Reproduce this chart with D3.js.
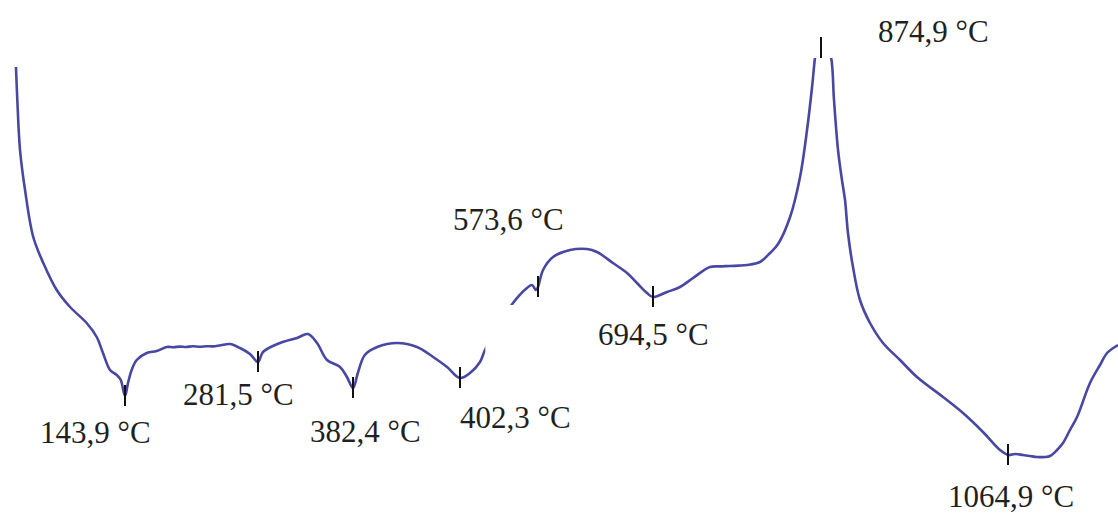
<!DOCTYPE html>
<html>
<head>
<meta charset="utf-8">
<script src="https://cdn.jsdelivr.net/npm/d3@7"></script>
<style>
  body { margin: 0; background: #ffffff; }
  svg { display: block; }
</style>
</head>
<body>
<svg id="chart" width="1118" height="514"></svg>
<script>
// DTA trace: furnace temperature (°C) and differential signal (arbitrary units)
const temperatures = [
  31.0, 32.4, 35.2, 40.4, 48.9, 59.3, 73.2, 87.0, 104.2, 114.6, 121.1, 128.4, 135.3, 139.5, 143.9,
  147.0, 150.8, 156.0, 166.4, 176.7, 187.0, 194.0, 200.8, 207.0, 214.0, 221.5, 228.0, 235.0, 243.0, 252.5, 262.9, 273.2, 281.5,
  286.8, 304.9, 322.9, 334.6, 344.2, 354.8, 368.6, 376.0, 382.4,
  383.3, 384.6, 386.9, 390.6, 394.3, 397.3, 399.9, 402.3,
  424.3, 446.2, 457.2, 490.0, 518.7, 549.4, 560.4, 569.2, 573.6,
  578.9, 589.4, 607.2, 625.1, 635.6, 652.4, 667.2, 677.7, 688.2, 694.5,
  709.5, 723.5, 737.5, 755.7, 766.0, 777.2, 786.0, 795.4, 809.4, 820.2, 828.8, 841.7, 852.4, 859.9, 865.3, 868.5, 871.7, 874.9,
  877.9, 885.1, 888.1, 892.2, 896.2, 899.3, 902.3, 907.4, 914.5, 924.7, 937.9, 955.2, 972.4, 998.9, 1019.2, 1039.5, 1056.8, 1064.9,
  1072.0, 1080.0, 1087.1, 1094.2, 1102.3, 1107.3, 1114.4, 1120.4, 1127.5, 1134.6, 1147.7, 1157.8, 1164.9, 1176.0
];
const signal = [
  206.5, 190, 165, 145, 121.5, 108.5, 95, 86.5, 78.5, 71.5, 63.5, 55, 52.5, 50, 42,
  48.5, 55, 60, 63.5, 64.5, 66.5, 66.4, 66.7, 66.5, 66.9, 66.6, 66.9, 66.8, 67.4, 68, 66, 63, 59,
  64, 68.5, 71, 73, 68.5, 60, 56.5, 51.5, 46,
  53.5, 62.5, 66.5, 68.5, 66.5, 61.5, 56.5, 51,
  53.5, 59, 65, 78, 88.5, 96, 97.5, 95, 96.5,
  105, 111.5, 115, 115.5, 114, 108.5, 103.5, 98.5, 93.5, 91.5,
  94, 96.5, 101, 106.5, 106.8, 107, 107.2, 107.5, 109, 113.5, 118, 131.5, 151.5, 175, 196.5, 211.5, 222.5, 232,
  222.5, 211.5, 190, 165, 150, 140, 123.5, 106.5, 90, 78.5, 68.5, 60, 51.5, 41.5, 33.5, 24, 15, 12.5,
  13, 12.5, 12, 11.5, 11.5, 12, 15, 18.5, 25, 31.5, 48.5, 57.5, 63.5, 67.5
];

// Marked thermal effects
const peakTemps = [143.9, 281.5, 382.4, 402.3, 573.6, 694.5, 874.9, 1064.9];
const peakLabels = ["143,9 °C", "281,5 °C", "382,4 °C", "402,3 °C", "573,6 °C", "694,5 °C", "874,9 °C", "1064,9 °C"];

// Label placement relative to each marker (dx, dy from the marked point)
const labelOffsets = [[-85, 47], [-75, 43], [-43, 54], [0, 50], [-85, -57], [-55, 48], [57, -16], [-60, 52]];

// Temperature axis calibration (piecewise, as recorded by the instrument)
const calibTemps = [30, 143.9, 281.5, 382.4, 402.3, 573.6, 694.5, 874.9, 1064.9, 1180];
const calibPx    = [15, 125, 258, 353, 460, 538, 653, 821, 1008, 1122];

// Hidden stretch of the trace (temperature range, signal below)
const hiddenTemps = [458, 577];
const hiddenSignal = [40, 87.5];

const svg = d3.select("#chart");
const plotTop = 58;

const x = d3.scaleLinear().domain(calibTemps).range(calibPx);
const y = d3.scaleLinear().domain([0, 211]).range([480, plotTop]);

const points = temperatures.map((t, i) => ({ t, v: signal[i] }));

svg.append("defs").append("clipPath").attr("id", "plot-clip")
  .append("rect").attr("x", 0).attr("y", plotTop).attr("width", 1118).attr("height", 514 - plotTop);

const line = d3.line()
  .x(d => x(d.t))
  .y(d => y(d.v))
  .curve(d3.curveCatmullRom.alpha(0.5));

svg.append("path")
  .datum(points)
  .attr("clip-path", "url(#plot-clip)")
  .attr("fill", "none")
  .attr("stroke", "#4848a2")
  .attr("stroke-width", 2.6)
  .attr("stroke-linejoin", "round")
  .attr("d", line);

// White patch over the hidden part of the trace
svg.append("rect")
  .attr("x", x(hiddenTemps[0]))
  .attr("y", y(hiddenSignal[1]))
  .attr("width", x(hiddenTemps[1]) - x(hiddenTemps[0]))
  .attr("height", y(hiddenSignal[0]) - y(hiddenSignal[1]))
  .attr("fill", "#ffffff");

// Markers and labels
const markers = peakTemps.map((t, i) => {
  const p = points.find(d => Math.abs(d.t - t) < 1e-6);
  const py = Math.max(y(p.v), plotTop);
  const clipped = y(p.v) < plotTop;
  return { t, label: peakLabels[i], px: x(t), py, clipped, off: labelOffsets[i] };
});

svg.selectAll("line.marker")
  .data(markers)
  .join("line")
  .attr("class", "marker")
  .attr("x1", d => d.px).attr("x2", d => d.px)
  .attr("y1", d => d.clipped ? d.py - 21 : d.py - 11)
  .attr("y2", d => d.clipped ? d.py : d.py + 10)
  .attr("stroke", "#111111")
  .attr("stroke-width", 2);

svg.selectAll("text.label")
  .data(markers)
  .join("text")
  .attr("class", "label")
  .attr("x", d => d.px + d.off[0])
  .attr("y", d => d.py + d.off[1])
  .attr("font-family", "'Liberation Serif', 'Times New Roman', serif")
  .attr("font-size", 31)
  .attr("fill", "#231f20")
  .text(d => d.label);
</script>
</body>
</html>
